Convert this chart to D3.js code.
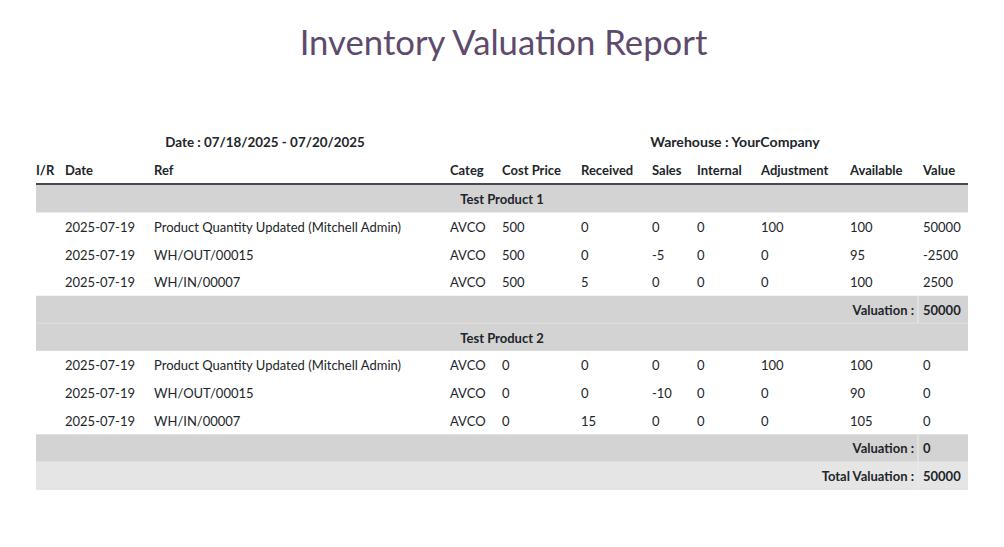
<!DOCTYPE html>
<html>
<head>
<meta charset="utf-8">
<script src="https://cdn.jsdelivr.net/npm/d3@7"></script>
<style>
  body { margin: 0; background: #fff; font-family: Lato, "Noto Sans", sans-serif; }
  svg text { font-family: Lato, "Noto Sans", sans-serif; fill: #212529; }
</style>
</head>
<body>
<div class="report"></div>
<script>
var w = 1004,
  h = 547;

var title = 'Inventory Valuation Report',
  dateRange = 'Date : 07/18/2025 - 07/20/2025',
  warehouse = 'Warehouse : YourCompany';

var columns = ['I/R', 'Date', 'Ref', 'Categ', 'Cost Price', 'Received', 'Sales', 'Internal', 'Adjustment', 'Available', 'Value'];
// left edge of each column (layout)
var colX = [36, 65, 154, 450, 502, 581, 652, 697, 761, 850, 923];

var products = ['Test Product 1', 'Test Product 2'];
var dates = ['2025-07-19', '2025-07-19', '2025-07-19'];
var refs = ['Product Quantity Updated (Mitchell Admin)', 'WH/OUT/00015', 'WH/IN/00007'];
var categ = 'AVCO';
var costPrice = [500, 0];
var received = [[0, 0, 5], [0, 0, 15]];
var sales = [[0, -5, 0], [0, -10, 0]];
var internal = [[0, 0, 0], [0, 0, 0]];
var adjustment = [[100, 0, 0], [100, 0, 0]];
var available = [[100, 95, 100], [100, 90, 105]];
var value = [[50000, -2500, 2500], [0, 0, 0]];
var valuation = [50000, 0];
var totalValuation = 50000;

// build row list
var rows = [];
products.forEach(function (p, i) {
  rows.push({ type: 'group', label: p });
  refs.forEach(function (r, j) {
    rows.push({
      type: 'line',
      cells: ['', dates[j], r, categ, costPrice[i], received[i][j], sales[i][j],
        internal[i][j], adjustment[i][j], available[i][j], value[i][j]]
    });
  });
  rows.push({ type: 'sub', label: 'Valuation :', value: valuation[i] });
});
rows.push({ type: 'total', label: 'Total Valuation :', value: totalValuation });

var x = d3.scaleOrdinal().domain(columns).range(colX);
var left = 36, right = 968;

var y = d3.scaleBand()
  .domain(d3.range(rows.length))
  .range([185, 185 + 27.7 * rows.length])
  .paddingInner(0);

var svg = d3.select('.report')
  .append('svg')
  .attr('width', w)
  .attr('height', h);

svg.append('text')
  .attr('x', w / 2 + 1.5)
  .attr('y', 55)
  .attr('text-anchor', 'middle')
  .style('font-size', '34.7px')
  .style('fill', '#5e4a6c')
  .text(title);

svg.append('text')
  .attr('x', 265)
  .attr('y', 147)
  .attr('text-anchor', 'middle')
  .style('font-size', '13.4px')
  .style('font-weight', 'bold')
  .text(dateRange);

svg.append('text')
  .attr('x', 735)
  .attr('y', 147)
  .attr('text-anchor', 'middle')
  .style('font-size', '14.1px')
  .style('font-weight', 'bold')
  .text(warehouse);

// header
svg.selectAll('text.head')
  .data(columns)
  .enter()
  .append('text')
  .attr('class', 'head')
  .attr('x', function (d) { return x(d); })
  .attr('y', 175)
  .style('font-size', '13px')
  .style('font-weight', 'bold')
  .text(function (d) { return d; });

svg.append('rect')
  .attr('x', left)
  .attr('y', 183)
  .attr('width', right - left)
  .attr('height', 2)
  .attr('fill', '#454a52');

var fills = { group: '#d3d3d3', sub: '#d3d3d3', total: '#e5e5e5', line: '#fff' };

var rowG = svg.selectAll('g.row')
  .data(rows)
  .enter()
  .append('g')
  .attr('class', 'row')
  .attr('transform', function (d, i) { return 'translate(0,' + y(i) + ')'; });

rowG.append('rect')
  .attr('x', left)
  .attr('y', 0)
  .attr('width', right - left)
  .attr('height', y.bandwidth())
  .attr('fill', function (d) { return fills[d.type]; });

rowG.filter(function (d, i) { return d.type !== 'line'; })
  .append('rect')
  .attr('x', left)
  .attr('y', y.bandwidth() - 0.8)
  .attr('width', right - left)
  .attr('height', 0.8)
  .attr('fill', '#e2e2e2');

var mid = y.bandwidth() / 2 + 5.3;

rowG.filter(function (d) { return d.type === 'group'; })
  .append('text')
  .attr('x', (left + right) / 2)
  .attr('y', mid)
  .attr('text-anchor', 'middle')
  .style('font-size', '13px')
  .style('font-weight', 'bold')
  .text(function (d) { return d.label; });

rowG.filter(function (d) { return d.type === 'line'; })
  .selectAll('text')
  .data(function (d) { return d.cells; })
  .enter()
  .append('text')
  .attr('x', function (d, i) { return x(columns[i]); })
  .attr('y', mid)
  .style('font-size', '13px')
  .text(function (d) { return d; });

var subs = rowG.filter(function (d) { return d.type === 'sub' || d.type === 'total'; });

subs.append('rect')
  .attr('x', x('Value') - 5.5)
  .attr('y', 0)
  .attr('width', 1)
  .attr('height', y.bandwidth())
  .attr('fill', '#ececec');

subs.append('text')
  .attr('x', x('Value') - 9)
  .attr('y', mid)
  .attr('text-anchor', 'end')
  .style('font-size', '13px')
  .style('font-weight', 'bold')
  .text(function (d) { return d.label; });

subs.append('text')
  .attr('x', x('Value'))
  .attr('y', mid)
  .style('font-size', '13px')
  .style('font-weight', 'bold')
  .text(function (d) { return d.value; });
</script>
</body>
</html>
